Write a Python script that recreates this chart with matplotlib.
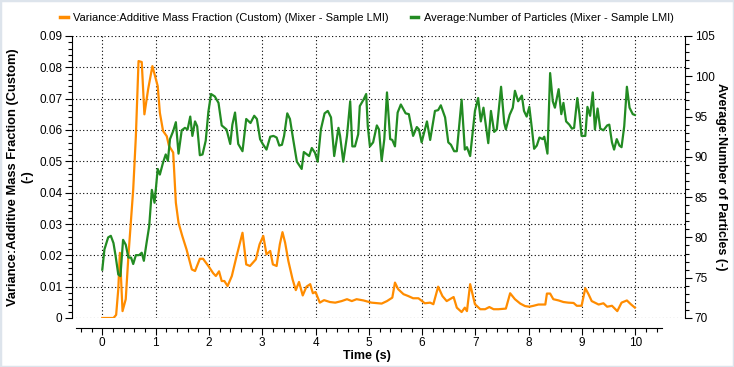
import numpy as np
import matplotlib
matplotlib.use('Agg')
import matplotlib.pyplot as plt
from matplotlib.ticker import MultipleLocator, FixedLocator, FuncFormatter
from matplotlib.patches import Rectangle

plt.rcParams['font.family'] = ['Liberation Sans', 'DejaVu Sans']

# Variance:Additive Mass Fraction (left axis)
orange_t = [0.00, 0.21, 0.26, 0.30, 0.33, 0.38, 0.44, 0.49, 0.58, 0.63,
            0.68, 0.74, 0.79, 0.86, 0.94, 0.99, 1.04, 1.08, 1.14, 1.21,
            1.25, 1.33, 1.38, 1.43, 1.50, 1.58, 1.68, 1.74, 1.83, 1.89,
            1.99, 2.08, 2.13, 2.19, 2.24, 2.29, 2.35, 2.43, 2.46, 2.52,
            2.63, 2.70, 2.77, 2.88, 2.95, 3.02, 3.08, 3.15, 3.20, 3.27,
            3.33, 3.38, 3.43, 3.49, 3.57, 3.63, 3.69, 3.76, 3.83, 3.90,
            3.95, 4.00, 4.08, 4.16, 4.27, 4.37, 4.49, 4.59, 4.68, 4.77,
            4.90, 5.05, 5.24, 5.34, 5.44, 5.49, 5.55, 5.65, 5.74, 5.83,
            5.93, 6.05, 6.15, 6.21, 6.30, 6.38, 6.46, 6.59, 6.65, 6.74,
            6.80, 6.84, 6.90, 6.99, 7.09, 7.18, 7.26, 7.34, 7.43, 7.57,
            7.65, 7.74, 7.84, 7.93, 8.01, 8.09, 8.18, 8.31, 8.34, 8.40,
            8.46, 8.56, 8.65, 8.74, 8.84, 8.90, 8.99, 9.06, 9.12, 9.18,
            9.31, 9.40, 9.47, 9.56, 9.66, 9.74, 9.84, 9.92, 9.99]
orange_v = [0.0, 0.0, 0.001, 0.0092, 0.0208, 0.0022, 0.006, 0.0198, 0.041, 0.058,
            0.082, 0.0817, 0.065, 0.073, 0.0804, 0.0772, 0.074, 0.0655, 0.0597, 0.058,
            0.055, 0.0528, 0.0368, 0.0304, 0.0262, 0.0219, 0.0155, 0.015, 0.0189, 0.0189,
            0.0166, 0.0143, 0.0134, 0.0149, 0.0118, 0.0118, 0.0102, 0.0134, 0.0155, 0.0198,
            0.0272, 0.0171, 0.0166, 0.0187, 0.0235, 0.0262, 0.0203, 0.0214, 0.0171, 0.0166,
            0.0235, 0.0274, 0.024, 0.0182, 0.0123, 0.0089, 0.0115, 0.0072, 0.01, 0.0108,
            0.0079, 0.0083, 0.0049, 0.0057, 0.0051, 0.0049, 0.0054, 0.006, 0.0054, 0.006,
            0.0056, 0.0049, 0.0046, 0.0054, 0.0065, 0.0113, 0.0092, 0.0076, 0.007, 0.0063,
            0.0063, 0.0047, 0.0049, 0.0044, 0.01, 0.007, 0.0054, 0.0067, 0.0033, 0.0019,
            0.0033, 0.0022, 0.0108, 0.0044, 0.0028, 0.0028, 0.0035, 0.0028, 0.0028, 0.003,
            0.0079, 0.006, 0.0046, 0.0038, 0.0036, 0.0039, 0.0043, 0.0043, 0.0078, 0.0078,
            0.006, 0.0056, 0.0051, 0.0049, 0.0048, 0.0039, 0.0039, 0.0095, 0.0076, 0.0054,
            0.0043, 0.0047, 0.0036, 0.0039, 0.0022, 0.0049, 0.0056, 0.0043, 0.0033]

# Average:Number of Particles (right axis)
green_t = [0.00, 0.04, 0.11, 0.16, 0.21, 0.25, 0.30, 0.34, 0.39, 0.44,
           0.49, 0.54, 0.58, 0.63, 0.69, 0.74, 0.78, 0.83, 0.88, 0.93,
           0.98, 1.04, 1.08, 1.14, 1.19, 1.23, 1.27, 1.33, 1.38, 1.43,
           1.49, 1.55, 1.60, 1.65, 1.69, 1.74, 1.78, 1.83, 1.88, 1.94,
           1.99, 2.04, 2.11, 2.18, 2.24, 2.33, 2.40, 2.44, 2.49,
           2.55, 2.63, 2.70, 2.78, 2.85, 2.90, 2.96, 3.01, 3.08, 3.15,
           3.21, 3.27, 3.32, 3.37, 3.41, 3.47, 3.52, 3.58, 3.65, 3.74,
           3.78, 3.88, 3.93, 3.99, 4.04, 4.10, 4.17, 4.23, 4.29, 4.35,
           4.43, 4.46, 4.52, 4.59, 4.65, 4.69, 4.74, 4.80, 4.83, 4.90, 4.95,
           4.98, 5.02, 5.08, 5.15, 5.19, 5.24, 5.29, 5.34, 5.40, 5.44,
           5.49, 5.54, 5.60, 5.69, 5.75, 5.83, 5.90, 5.94, 5.99, 6.09,
           6.15, 6.24, 6.30, 6.35, 6.43, 6.49, 6.54, 6.60, 6.65, 6.74,
           6.80, 6.84, 6.90, 6.99, 7.05, 7.10, 7.15, 7.24, 7.29, 7.35, 7.40, 7.48,
           7.54, 7.57, 7.64, 7.70, 7.74, 7.80, 7.87, 7.91, 7.96, 8.01,
           8.06, 8.10, 8.15, 8.20, 8.26, 8.29, 8.35, 8.40, 8.45, 8.49,
           8.56, 8.61, 8.65, 8.70, 8.76, 8.81, 8.85, 8.91, 8.95, 8.99,
           9.06, 9.10, 9.15, 9.20, 9.24, 9.29, 9.34, 9.40, 9.47, 9.51,
           9.56, 9.60, 9.65, 9.70, 9.74, 9.79, 9.84, 9.89, 9.95, 9.99]
green_v = [76.0, 78.5, 80.0, 80.2, 79.3, 77.7, 75.4, 75.2, 79.7, 79.1,
           77.5, 77.5, 76.7, 77.8, 77.8, 78.1, 77.1, 79.3, 81.4, 85.9,
           84.3, 88.5, 87.8, 89.3, 90.3, 89.5, 92.2, 93.2, 94.3, 90.4,
           93.3, 93.6, 93.4, 95.0, 92.6, 94.4, 93.8, 90.2, 90.3, 92.0,
           95.6, 97.8, 97.5, 96.7, 93.9, 93.4, 91.6, 94.0, 95.5,
           91.6, 90.7, 94.7, 94.2, 95.1, 94.7, 92.2, 91.6, 90.9, 92.5,
           92.6, 92.4, 91.4, 91.5, 92.6, 95.4, 94.7, 92.2, 89.4, 88.5,
           90.6, 90.1, 91.1, 90.5, 89.4, 93.4, 95.4, 95.7, 94.9, 90.1,
           93.6, 92.6, 89.4, 92.6, 96.9, 91.3, 91.3, 92.8, 96.3, 97.1, 97.8,
           93.8, 91.3, 91.8, 93.9, 93.4, 89.5, 92.2, 98.0, 92.2, 92.1,
           91.3, 95.5, 96.5, 95.4, 95.3, 92.6, 93.7, 93.4, 91.8, 94.4,
           92.1, 95.7, 95.8, 96.4, 94.9, 91.8, 91.5, 90.7, 90.7, 97.1,
           90.9, 91.2, 90.1, 95.7, 97.3, 94.4, 96.1, 91.7, 95.7, 93.1, 93.4, 98.7,
           94.2, 93.4, 95.2, 96.1, 98.2, 96.9, 97.6, 95.7, 95.0, 96.2,
           93.4, 91.0, 91.4, 92.4, 92.2, 92.5, 90.4, 100.4, 96.9, 96.1,
           98.4, 95.3, 96.7, 94.4, 94.0, 93.5, 93.6, 97.3, 95.3, 92.6,
           92.6, 96.2, 95.1, 98.0, 93.4, 96.0, 93.5, 93.3, 93.9, 94.0,
           91.8, 90.9, 92.2, 91.4, 91.2, 93.8, 98.7, 96.1, 95.3, 95.2]

orange_label = 'Variance:Additive Mass Fraction (Custom) (Mixer - Sample LMI)'
green_label = 'Average:Number of Particles (Mixer - Sample LMI)'

W, H = 734, 367
fig = plt.figure(figsize=(W / 100, H / 100), dpi=100)
ax = fig.add_axes([72 / W, 1 - 318 / H, (685 - 72) / W, (318 - 36) / H])
ax2 = ax.twinx()

ax.plot(orange_t, orange_v, color='#ff8c00', lw=1.6, solid_joinstyle='round')
ax2.plot(green_t, green_v, color='#228b22', lw=1.6, solid_joinstyle='round')

ax.set_xlim(-0.568, 10.93)
ax.set_ylim(0, 0.09)
ax2.set_ylim(70, 105)

dot = (0, (1, 2.2))
ax.grid(True, which='major', color='black', linestyle=dot, linewidth=0.8)

for a in (ax, ax2):
    a.spines['top'].set_visible(False)
    a.spines['bottom'].set_visible(False)
    a.set_facecolor('none')
ax.spines['bottom'].set_visible(True)
ax.spines['bottom'].set_position(('outward', 7))
ax.spines['bottom'].set_bounds(-0.5, 10.5)
ax2.spines['left'].set_visible(False)
ax.spines['right'].set_visible(False)

ax.xaxis.set_major_locator(FixedLocator(range(0, 11)))
ax.xaxis.set_minor_locator(FixedLocator(np.round(np.arange(-0.4, 10.41, 0.2), 2)))
ax.yaxis.set_major_locator(MultipleLocator(0.01))
ax.yaxis.set_minor_locator(MultipleLocator(0.002))
ax.yaxis.set_major_formatter(FuncFormatter(lambda v, p: '%g' % round(v, 3)))
ax2.yaxis.set_major_locator(MultipleLocator(5))
ax2.yaxis.set_minor_locator(MultipleLocator(1))

ax.tick_params(axis='both', which='major', direction='out', length=5, width=0.8,
               labelsize=8.5, pad=2)
ax.tick_params(axis='both', which='minor', direction='out', length=3, width=0.8)
ax2.tick_params(axis='y', which='major', direction='out', length=5, width=0.8,
                labelsize=8.5, pad=2)
ax2.tick_params(axis='y', which='minor', direction='out', length=3, width=0.8)

ax.set_xlabel('Time (s)', fontsize=9, fontweight='bold', labelpad=2)
ax.xaxis.set_label_coords((367 - 72) / (685 - 72), -0.115)
ax.set_ylabel('Variance:Additive Mass Fraction (Custom)\n(-)', fontsize=9.3,
              fontweight='bold', labelpad=4, linespacing=1.3)
ax2.set_ylabel('Average:Number of Particles (-)', fontsize=9, fontweight='bold',
               rotation=270, labelpad=9)

h1, = ax.plot([], [], color='#ff8c00', lw=2.5)
h2, = ax.plot([], [], color='#228b22', lw=2.5)
fig.legend([h1, h2], [orange_label, green_label], loc='center',
           bbox_to_anchor=(0.5, 1 - 18 / H), ncol=2, frameon=False,
           fontsize=8, handlelength=0.65, handletextpad=0.5, columnspacing=2.0)

fig.patches.append(Rectangle((0, 0), 1, 1, transform=fig.transFigure, fill=False,
                             edgecolor='#dde4ec', linewidth=2.5))

fig.savefig('out.png', dpi=100)
